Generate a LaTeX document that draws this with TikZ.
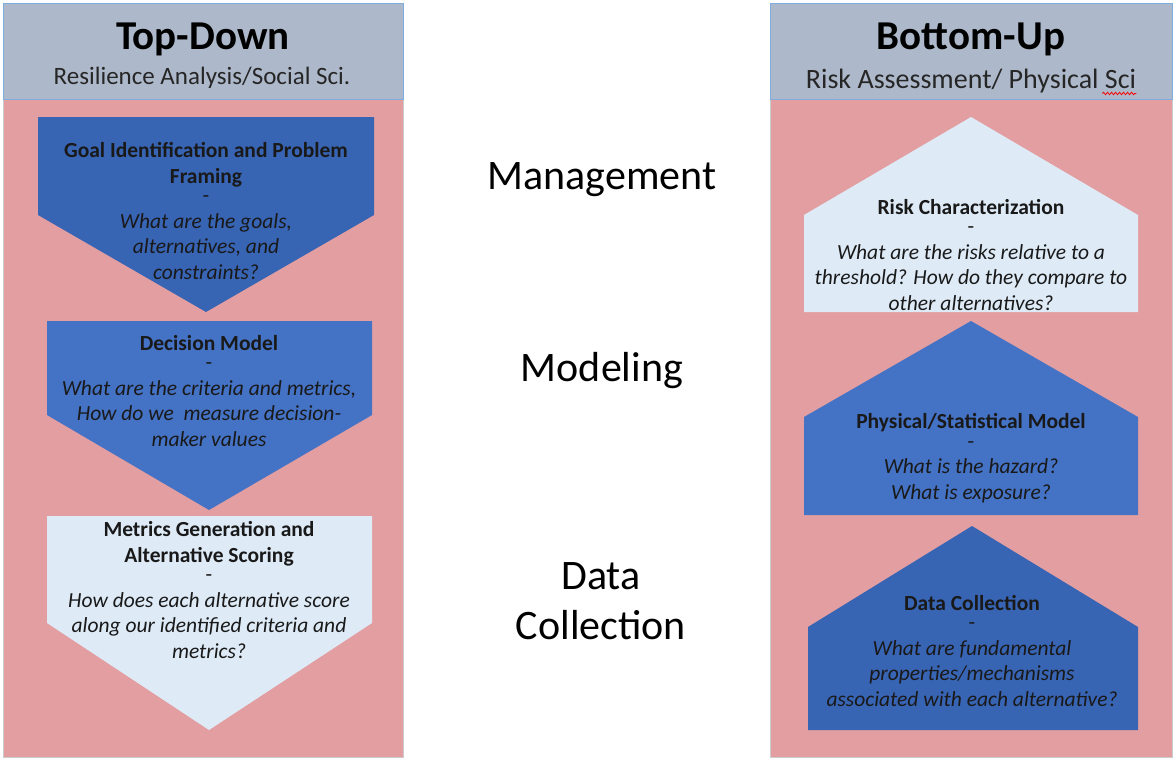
\documentclass[tikz,border=0pt]{standalone}
\usepackage{fontspec}
\setmainfont{Carlito}
\usetikzlibrary{decorations.pathmorphing}

\definecolor{headgray}{HTML}{ADB9CA}
\definecolor{headline}{HTML}{7EAEDF}
\definecolor{bodypink}{HTML}{E29EA1}
\definecolor{darkblue}{HTML}{3864B4}
\definecolor{midblue}{HTML}{4472C4}
\definecolor{paleblue}{HTML}{DEEBF7}

\tikzset{
	head/.style={fill=headgray, draw=headline, line width=1pt},
	body/.style={fill=bodypink, draw=black!20, line width=1pt},
	title/.style={font=\fontsize{41}{49}\selectfont\bfseries, inner sep=0pt},
	subtitle/.style={font=\fontsize{25}{30}\selectfont, text=black!85, inner sep=0pt},
	stage/.style={font=\fontsize{42}{50}\selectfont, align=center, inner sep=0pt},
	boxtext/.style={font=\fontsize{21.5}{25.5}\selectfont, align=center, text=black!90, inner sep=0pt}
}

\begin{document}
\begin{tikzpicture}[x=1pt,y=-1pt]
	\useasboundingbox (0,0) rectangle (1173,758);
	\fill[white] (0,0) rectangle (1173,758);
	\draw[body] (3,99) rectangle (403,757);
	\draw[head] (3,3) rectangle (403,99);
	\draw[body] (770,99) rectangle (1172,757);
	\draw[head] (770,3) rectangle (1172,99);
	\node[title] (ltitle) at (203,39) {Top-Down};
	\node[subtitle] (lsub) at (202,78) {Resilience Analysis/Social Sci.};
	\node[title] (rtitle) at (971,39) {Bottom-Up};
	\node[subtitle, font=\fontsize{28}{33}\selectfont] (rsub) at (971,81) {Risk Assessment/ Physical Sci};
	\draw[red, line width=0.8pt, decorate, decoration={snake, amplitude=1.2pt, segment length=4pt}]
		([xshift=-34pt,yshift=-5pt]rsub.base east) -- ([yshift=-5pt]rsub.base east);
	\fill[darkblue] (38,117) -- (374,117) -- (374,215) -- (206,312) -- (38,215) -- cycle;
	\fill[midblue] (47,321) -- (372,321) -- (372,415) -- (209,510) -- (47,415) -- cycle;
	\fill[paleblue] (47,516) -- (372,516) -- (372,623) -- (209,730) -- (47,623) -- cycle;
	\fill[paleblue] (971,117) -- (1138,215) -- (1138,312) -- (804,312) -- (804,215) -- cycle;
	\fill[midblue] (971,321) -- (1138,417) -- (1138,515) -- (804,515) -- (804,417) -- cycle;
	\fill[darkblue] (972,526) -- (1138,627) -- (1138,730) -- (808,730) -- (808,627) -- cycle;
	\node[boxtext] (goal) at (206,211) {\textbf{Goal Identification and Problem}\\\textbf{Framing}\\[-6pt]-\\\textit{What are the goals,}\\\textit{alternatives, and}\\\textit{constraints?}};
	\node[boxtext] (decision) at (209,391) {\textbf{Decision Model}\\[-6pt]-\\\textit{What are the criteria and metrics,}\\\textit{How do we \ measure decision-}\\\textit{maker values}};
	\node[boxtext] (metrics) at (209,590) {\textbf{Metrics Generation and}\\\textbf{Alternative Scoring}\\[-6pt]-\\\textit{How does each alternative score}\\\textit{along our identified criteria and}\\\textit{metrics?}};
	\node[boxtext] (risk) at (971,255) {\textbf{Risk Characterization}\\[-6pt]-\\\textit{What are the risks relative to a}\\\textit{threshold? How do they compare to}\\\textit{other alternatives?}};
	\node[boxtext] (physical) at (971,458) {\textbf{Physical/Statistical Model}\\[-6pt]-\\\textit{What is the hazard?}\\\textit{What is exposure?}};
	\node[boxtext] (data) at (972,651) {\textbf{Data Collection}\\[-6pt]-\\\textit{What are fundamental}\\\textit{properties/mechanisms}\\\textit{associated with each alternative?}};
	\node[stage] (management) at (602,180) {Management};
	\node[stage] (modeling) at (602,371) {Modeling};
	\node[stage] (collection) at (601,601) {Data\\Collection};
\end{tikzpicture}
\end{document}
